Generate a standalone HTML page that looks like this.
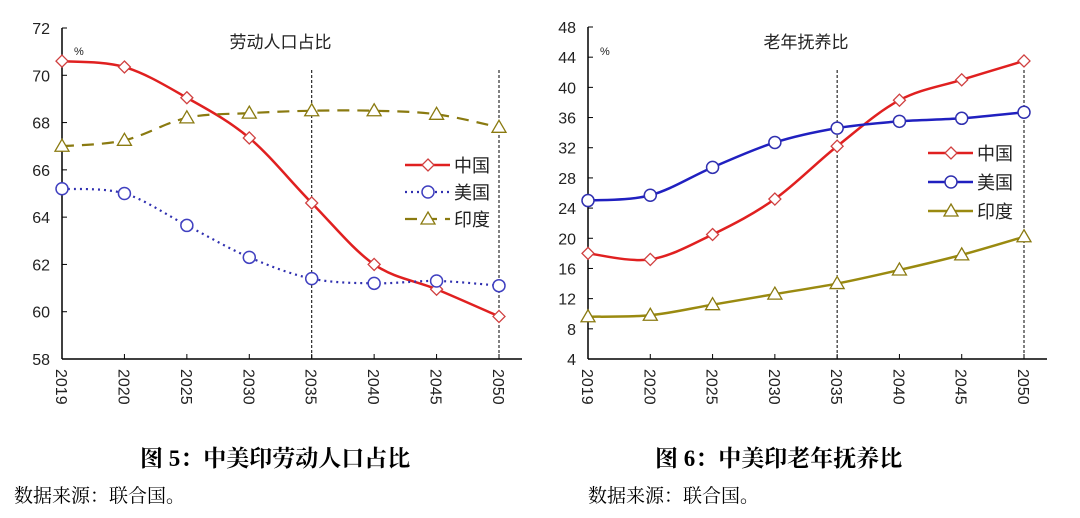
<!DOCTYPE html>
<html><head><meta charset="utf-8"><style>
body{margin:0;background:#fff;width:1080px;height:518px;overflow:hidden;font-family:"Liberation Sans","Noto Sans CJK SC",sans-serif}
.cap{position:absolute;font-family:"Liberation Serif","Noto Serif CJK SC",serif;font-weight:bold;font-size:23px;color:#000}
.src{position:absolute;font-family:"Liberation Serif","Noto Serif CJK SC",serif;font-size:19px;color:#000}
</style></head><body>
<svg id="s" width="1080" height="420" style="position:absolute;left:0;top:0" font-family="Liberation Sans, Noto Sans CJK SC, sans-serif"></svg>
<div class="cap" style="left:140px;top:440px">图 5：中美印劳动人口占比</div>
<div class="cap" style="left:655px;top:440px">图 6：中美印老年抚养比</div>
<div class="src" style="left:14px;top:481px">数据来源：联合国。</div>
<div class="src" style="left:588px;top:481px">数据来源：联合国。</div>
<script>
var S=document.getElementById('s'),h='';
var yrs=['2019','2020','2025','2030','2035','2040','2045','2050'];
function path(pts){var d='M'+pts[0][0]+','+pts[0][1];for(var i=0;i<pts.length-1;i++){var p0=pts[i-1]||pts[i],p1=pts[i],p2=pts[i+1],p3=pts[i+2]||p2;var t=6;d+=' C'+(p1[0]+(p2[0]-p0[0])/t)+','+(p1[1]+(p2[1]-p0[1])/t)+' '+(p2[0]-(p3[0]-p1[0])/t)+','+(p2[1]-(p3[1]-p1[1])/t)+' '+p2[0]+','+p2[1];}return d;}
function mk(type,x,y,c){if(type=='d')return '<polygon points="'+x+','+(y-6)+' '+(x+6)+','+y+' '+x+','+(y+6)+' '+(x-6)+','+y+'" fill="#fff" stroke="'+c+'" stroke-width="1.3"/>';if(type=='o')return '<circle cx="'+x+'" cy="'+y+'" r="6" fill="#fff" stroke="'+c+'" stroke-width="1.5"/>';return '<polygon points="'+x+','+(y-7)+' '+(x+7)+','+(y+5)+' '+(x-7)+','+(y+5)+'" fill="#fff" stroke="'+c+'" stroke-width="1.3"/>';}
function chart(o){
 var X=function(i){return o.x0+i*(o.x1-o.x0)/7},Y=function(v){return o.yt+(o.max-v)*(o.yb-o.yt)/(o.max-o.min)};
 h+='<line x1="'+o.x0+'" y1="'+o.yt+'" x2="'+o.x0+'" y2="'+o.yb+'" stroke="#000" stroke-width="1.5"/>';
 h+='<line x1="'+o.x0+'" y1="'+o.yb+'" x2="'+o.xe+'" y2="'+o.yb+'" stroke="#000" stroke-width="1.5"/>';
 for(var v=o.min;v<=o.max;v+=o.step){var y=Y(v);h+='<line x1="'+o.x0+'" y1="'+y+'" x2="'+(o.x0+5)+'" y2="'+y+'" stroke="#000"/>';h+='<text x="'+(o.x0-12)+'" y="'+(y+6)+'" font-size="16" text-anchor="end" fill="#222">'+v+'</text>';}
 for(var i=0;i<8;i++){var x=X(i);h+='<line x1="'+x+'" y1="'+o.yb+'" x2="'+x+'" y2="'+(o.yb-5)+'" stroke="#000"/>';h+='<text transform="translate('+(x-6)+','+(o.yb+10)+') rotate(90)" font-size="16" fill="#222">'+yrs[i]+'</text>';}
 [4,7].forEach(function(i){h+='<line x1="'+X(i)+'" y1="70" x2="'+X(i)+'" y2="'+o.yb+'" stroke="#000" stroke-width="1" stroke-dasharray="3,2"/>';});
 h+='<text x="'+(o.x0+(o.x1-o.x0)/2)+'" y="48" font-size="17" text-anchor="middle" fill="#222">'+o.title+'</text>';
 h+='<text x="'+(o.x0+12)+'" y="55" font-size="11" fill="#222">%</text>';
 o.series.forEach(function(s,k){var pts=s.d.map(function(v,i){return [X(i),Y(v)]});
  h+='<path d="'+path(pts)+'" fill="none" stroke="'+s.c+'" stroke-width="'+s.w+'"'+(s.da?' stroke-dasharray="'+s.da+'"':'')+'/>';
  pts.forEach(function(p){h+=mk(s.m,p[0],p[1],s.mc)});
  var ly=o.ly+k*o.lg;h+='<line x1="'+o.lx+'" y1="'+ly+'" x2="'+(o.lx+45)+'" y2="'+ly+'" stroke="'+s.c+'" stroke-width="'+s.w+'"'+(s.da?' stroke-dasharray="'+s.da+'"':'')+'/>'+mk(s.m,o.lx+23,ly,s.mc);
  h+='<text x="'+(o.lx+49)+'" y="'+(ly+7)+'" font-size="18" fill="#222">'+s.n+'</text>';});
}
chart({x0:62,x1:499,xe:522,yt:28,yb:359,min:58,max:72,step:2,title:'劳动人口占比',lx:405,ly:165,lg:27,series:[
 {n:'中国',d:[70.6,70.35,69.05,67.35,64.6,62,60.95,59.8],c:'#e02020',mc:'#d04040',w:2.5,m:'d'},
 {n:'美国',d:[65.2,65,63.65,62.3,61.4,61.2,61.3,61.1],c:'#3030b0',mc:'#4040c0',w:2.2,m:'o',da:'2,4'},
 {n:'印度',d:[67,67.25,68.2,68.4,68.5,68.5,68.35,67.8],c:'#8a7a10',mc:'#8a7a10',w:2.2,m:'t',da:'12,8'}]});
chart({x0:588,x1:1024,xe:1047,yt:27,yb:359,min:4,max:48,step:4,title:'老年抚养比',lx:928,ly:153,lg:29,series:[
 {n:'中国',d:[18,17.2,20.5,25.2,32.2,38.3,41,43.5],c:'#e02020',mc:'#d04040',w:2.5,m:'d'},
 {n:'美国',d:[25,25.7,29.4,32.7,34.6,35.5,35.9,36.7],c:'#2020c0',mc:'#3030b0',w:2.5,m:'o'},
 {n:'印度',d:[9.6,9.8,11.2,12.6,14,15.8,17.8,20.2],c:'#9a8a10',mc:'#8a7a10',w:2.5,m:'t'}]});
S.innerHTML=h;
</script>
</body></html>
